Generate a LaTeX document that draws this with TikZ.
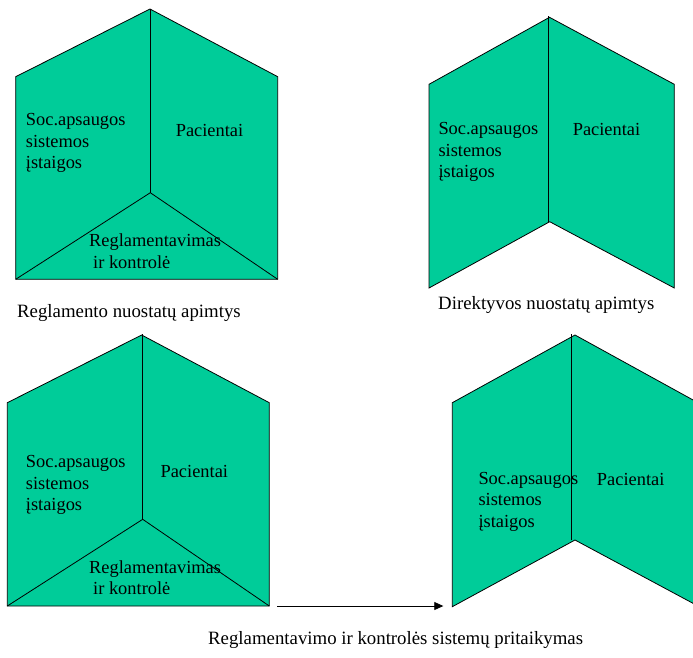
\documentclass[tikz,border=0pt]{standalone}
\usepackage{fontspec}
\setmainfont{Liberation Serif}
\usetikzlibrary{arrows.meta}
\definecolor{panelgreen}{RGB}{0,204,153}
\tikzset{
  panel/.style={fill=panelgreen, draw=black, line width=0.8pt, line join=miter},
  fold/.style={draw=black, line width=0.8pt},
  lbl/.style={inner sep=0pt, font=\fontsize{18.4}{21.5}\selectfont, align=left, text=black},
  captext/.style={inner sep=0pt, font=\fontsize{18.8}{22}\selectfont, anchor=west, text=black}
}
\begin{document}
\begin{tikzpicture}[x=1pt,y=-1pt]
\useasboundingbox (0,0) rectangle (693,657);
\begin{scope}
\clip (0,0) rectangle (693,657);
% Shape 1 (top left)
\draw[panel] (15.7,76.7) -- (150,9) -- (277.7,76.7) -- (277.7,279.3) -- (15.7,279.3) -- cycle;
\draw[fold] (150,9) -- (150,192.7);
\draw[fold] (15.7,279.3) -- (150.3,192.7) -- (277.7,279.3);
% Shape 2 (top right)
\draw[panel] (429,84.3) -- (549.5,17.3) -- (674.3,84.3) -- (674.3,288) -- (549.7,221.7) -- (429,288) -- cycle;
\draw[fold] (548,16) -- (548,222);
% Shape 3 (bottom left)
\draw[panel] (7.3,402.7) -- (141.7,335) -- (269.3,402.7) -- (269.3,606) -- (7.3,606) -- cycle;
\draw[fold] (142,334) -- (142,519.3);
\draw[fold] (7.3,606) -- (142.7,519.3) -- (269.3,606);
% Shape 4 (bottom right)
\draw[panel] (452.3,402.7) -- (575,335) -- (698,402.7) -- (698,606) -- (575,540) -- (452.3,606.7) -- cycle;
\draw[fold] (571.7,334) -- (571.7,540);
\end{scope}

% Labels shape 1
\node[lbl, anchor=west] (s1soc) at (25.7,143) {Soc.apsaugos\\sistemos\\įstaigos};
\node[lbl] (s1pac) at (209.5,130) {Pacientai};
\node[lbl, anchor=west] (s1reg) at (89,251) {Reglamentavimas\\\hspace*{4pt}ir kontrolė};
% Labels shape 2
\node[lbl, anchor=west] (s2soc) at (438.3,152) {Soc.apsaugos\\sistemos\\įstaigos};
\node[lbl] (s2pac) at (606.5,129) {Pacientai};
% Labels shape 3
\node[lbl, anchor=west] (s3soc) at (25.7,485) {Soc.apsaugos\\sistemos\\įstaigos};
\node[lbl] (s3pac) at (194.3,471.7) {Pacientai};
\node[lbl, anchor=west] (s3reg) at (89,577.5) {Reglamentavimas\\\hspace*{4pt}ir kontrolė};
% Labels shape 4
\node[lbl, anchor=west] (s4soc) at (478.3,501.7) {Soc.apsaugos\\sistemos\\įstaigos};
\node[lbl] (s4pac) at (630.7,479.3) {Pacientai};

% Captions
\node[captext] (cap1) at (17,313) {Reglamento nuostatų apimtys};
\node[captext] (cap2) at (438,305) {Direktyvos nuostatų apimtys};
\node[captext] (cap3) at (208,640) {Reglamentavimo ir kontrolės sistemų pritaikymas};

% Arrow
\coordinate (arrS) at (277.3,606);
\coordinate (arrE) at (443.3,606);
\draw[line width=0.8pt, -{Triangle[length=9pt,width=8pt]}] (arrS) -- (arrE);
\end{tikzpicture}
\end{document}
